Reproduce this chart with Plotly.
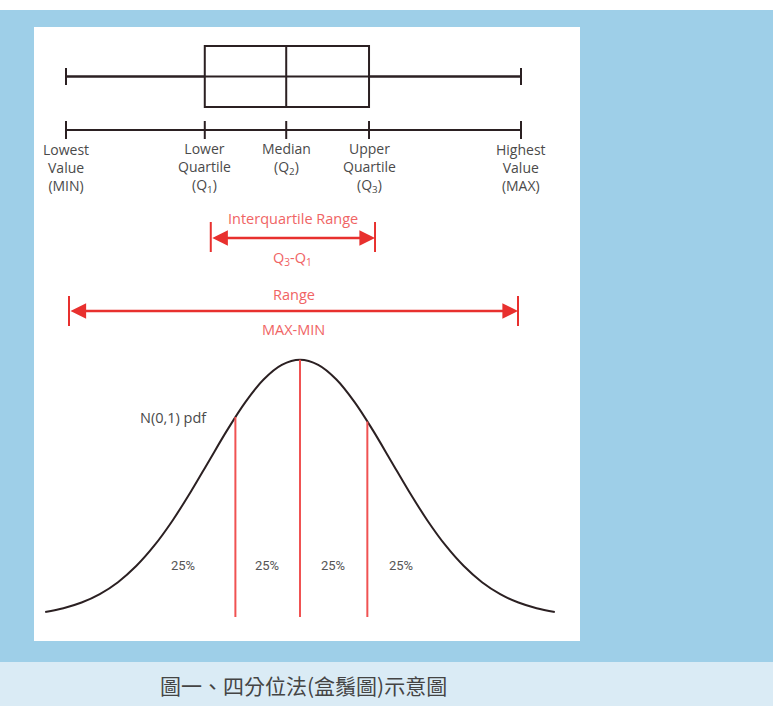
import plotly.graph_objects as go

# ---------------- data ----------------
stat_names = ["MIN", "Q1", "Median", "Q3", "MAX"]
stat_values = [0.0, 30.5, 48.4, 66.6, 100.0]
stat_labels = [
    ["Lowest", "Value", "(MIN)"],
    ["Lower", "Quartile", "(Q<sub>1</sub>)"],
    ["Median", "(Q<sub>2</sub>)"],
    ["Upper", "Quartile", "(Q<sub>3</sub>)"],
    ["Highest", "Value", "(MAX)"],
]

curve_z = [-2.8, -2.6, -2.4, -2.2, -2.0, -1.8, -1.6, -1.4, -1.2, -1.0, -0.8, -0.6, -0.4, -0.2,
           0.0, 0.2, 0.4, 0.6, 0.8, 1.0, 1.2, 1.4, 1.6, 1.8, 2.0, 2.2, 2.4, 2.6, 2.8]
curve_pdf = [0.0079, 0.0136, 0.0224, 0.0355, 0.0540, 0.0790, 0.1109, 0.1497, 0.1942, 0.2420,
             0.2897, 0.3332, 0.3683, 0.3910, 0.3989, 0.3910, 0.3683, 0.3332, 0.2897, 0.2420,
             0.1942, 0.1497, 0.1109, 0.0790, 0.0540, 0.0355, 0.0224, 0.0136, 0.0079]
split_z = [-0.71, 0.0, 0.74]
split_pdf = [0.310, 0.399, 0.303]
share_z = [-1.29, -0.36, 0.36, 1.11]
share_labels = ["25%", "25%", "25%", "25%"]

caption = "圖一、四分位法(盒鬚圖)示意圖"

# ---------------- layout constants ----------------
W, H = 773, 706
BLUE = "#9ecfe8"
BAND = "#daebf5"
DARK = "#2b2022"
GREY = "#4a4a4a"
RED = "#e8302e"
RED_TXT = "#f06464"
LINE_RED = "#f05252"
FONT = "Open Sans"
FS = 14.5
LABEL_FS = 14

# x mapping for box section: px = X0 + XS * v
X0, XS = 66.0, 4.55
x_range = [-X0 / XS, (W - X0) / XS]
# curve mapping: px = ZC + ZS * z ; py = YB - YS * pdf
ZC, ZS = 300.0, 91.0
YB, YS = 617.0, 645.0
x2_range = [-ZC / ZS, (W - ZC) / ZS]
y2_range = [(YB - H) / YS, YB / YS]

vmin, q1, med, q3, vmax = stat_values

fig = go.Figure()

# box plot
fig.add_trace(go.Scatter(x=[vmin, vmax], y=[76.5, 76.5], mode="lines",
                         line=dict(color=DARK, width=2), hoverinfo="skip"))
fig.add_trace(go.Box(y=[76.5], q1=[q1], median=[med], q3=[q3], lowerfence=[vmin],
                     upperfence=[vmax], orientation="h", width=61, whiskerwidth=0.28,
                     line=dict(color=DARK, width=2), fillcolor="rgba(0,0,0,0)",
                     boxpoints=False, hoverinfo="skip"))

# number line with ticks
fig.add_trace(go.Scatter(x=[vmin, vmax], y=[130, 130], mode="lines",
                         line=dict(color=DARK, width=2), hoverinfo="skip"))
tx, ty = [], []
for v in stat_values:
    tx += [v, v, None]
    ty += [121, 139, None]
fig.add_trace(go.Scatter(x=tx, y=ty, mode="lines", line=dict(color=DARK, width=2),
                         hoverinfo="skip"))

annotations = []
for v, lines in zip(stat_values, stat_labels):
    annotations.append(dict(x=v, y=150 + 17 * (len(lines) - 1) / 2, xref="x", yref="y",
                            text="<br>".join(lines), align="center",
                            showarrow=False, xanchor="center", yanchor="middle",
                            font=dict(family=FONT, size=LABEL_FS, color=GREY)))

# range arrows
arrows = [
    (q1 + 6 / XS, q3 + 6 / XS, 238, 222, 252, "Interquartile Range", 218,
     "Q<sub>3</sub>-Q<sub>1</sub>", 258),
    (vmin + 3 / XS, vmax - 3 / XS, 311, 296, 326, "Range", 294, "MAX-MIN", 329),
]
for a, b, yy, yt, yb, top, ytop, bot, ybot in arrows:
    fig.add_trace(go.Scatter(x=[a, a, None, b, b], y=[yt, yb, None, yt, yb], mode="lines",
                             line=dict(color=RED, width=2), hoverinfo="skip"))
    annotations.append(dict(x=b, y=yy, ax=a, ay=yy, xref="x", yref="y", axref="x", ayref="y",
                            text="", showarrow=True, arrowhead=2, arrowside="end+start",
                            arrowwidth=2.5, arrowsize=1.25, arrowcolor=RED, standoff=0,
                            startstandoff=0))
    c = (a + b) / 2
    annotations.append(dict(x=c, y=ytop, xref="x", yref="y", text=top, showarrow=False,
                            font=dict(family=FONT, size=FS, color=RED_TXT)))
    annotations.append(dict(x=c, y=ybot, xref="x", yref="y", text=bot, showarrow=False,
                            font=dict(family=FONT, size=FS, color=RED_TXT)))

# normal curve
fig.add_trace(go.Scatter(x=curve_z, y=curve_pdf, xaxis="x2", yaxis="y2", mode="lines",
                         line=dict(color=DARK, width=2, shape="spline"), hoverinfo="skip"))
sx, sy = [], []
for z, p in zip(split_z, split_pdf):
    sx += [z, z, None]
    sy += [0, p, None]
fig.add_trace(go.Scatter(x=sx, y=sy, xaxis="x2", yaxis="y2", mode="lines",
                         line=dict(color=LINE_RED, width=2), hoverinfo="skip"))

for z, t in zip(share_z, share_labels):
    annotations.append(dict(x=z, y=(YB - 565) / YS, xref="x2", yref="y2", text=t,
                            showarrow=False, font=dict(family="Roboto", size=13, color="#555555")))
annotations.append(dict(x=(138 - ZC) / ZS, y=(YB - 417) / YS, xref="x2", yref="y2",
                        text="N(0,1) pdf", showarrow=False, xanchor="left",
                        font=dict(family=FONT, size=FS, color=GREY)))

annotations.append(dict(x=303 / W, y=685, xref="paper", yref="y", text=caption,
                        showarrow=False, font=dict(family="Noto Sans CJK TC", size=21,
                                                   color="#444444")))

def py(p):
    return 1 - p / H

shapes = [
    dict(type="rect", xref="paper", yref="paper", x0=0, x1=1, y0=py(662), y1=py(10),
         fillcolor=BLUE, line=dict(width=0), layer="below"),
    dict(type="rect", xref="paper", yref="paper", x0=34 / W, x1=580 / W, y0=py(641), y1=py(27),
         fillcolor="white", line=dict(width=0), layer="below"),
    dict(type="rect", xref="paper", yref="paper", x0=0, x1=1, y0=0, y1=py(662),
         fillcolor=BAND, line=dict(width=0), layer="below"),
]

fig.update_layout(
    width=W, height=H, margin=dict(l=0, r=0, t=0, b=0),
    paper_bgcolor="white", plot_bgcolor="rgba(0,0,0,0)", showlegend=False,
    xaxis=dict(range=x_range, domain=[0, 1], visible=False, fixedrange=True),
    yaxis=dict(range=[H, 0], domain=[0, 1], visible=False, fixedrange=True),
    xaxis2=dict(range=x2_range, domain=[0, 1], anchor="y2", visible=False),
    yaxis2=dict(range=y2_range, domain=[0, 1], anchor="x2", visible=False),
    shapes=shapes, annotations=annotations,
)

fig.write_html("out.html", config={"displayModeBar": False},
               post_script="document.body.style.margin='0';document.body.style.overflow='hidden';")
